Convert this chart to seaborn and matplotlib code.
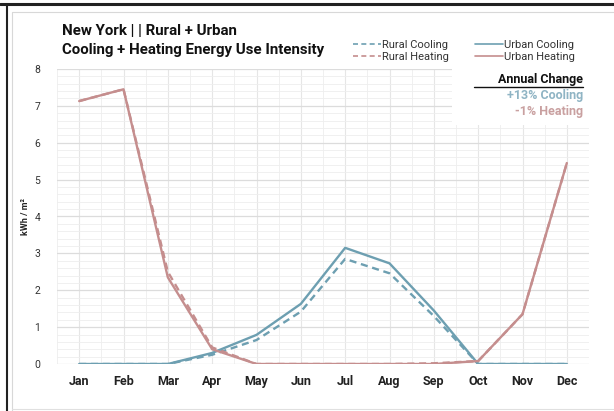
import matplotlib
matplotlib.use("Agg")
import matplotlib.pyplot as plt
from matplotlib.ticker import MultipleLocator
from matplotlib.lines import Line2D
import seaborn as sns
import pandas as pd

months = ["Jan", "Feb", "Mar", "Apr", "May", "Jun", "Jul", "Aug", "Sep", "Oct", "Nov", "Dec"]
rural_cooling = [0, 0, 0, 0.25, 0.65, 1.42, 2.85, 2.46, 1.30, 0, 0, 0]
urban_cooling = [0, 0, 0, 0.30, 0.79, 1.63, 3.15, 2.73, 1.45, 0, 0, 0]
rural_heating = [7.13, 7.45, 2.50, 0.45, 0, 0, 0, 0, 0.02, 0.08, 1.35, 5.45]
urban_heating = [7.13, 7.45, 2.35, 0.40, 0, 0, 0, 0, 0, 0.08, 1.35, 5.45]
yticks = [0, 1, 2, 3, 4, 5, 6, 7, 8]
cooling_change = "+13% Cooling"
heating_change = "-1% Heating"

COOL = "#6d9fb1"
HEAT = "#c58e8e"

sns.set_theme(style="white")
plt.rcParams["font.family"] = ["Roboto", "DejaVu Sans"]

fig = plt.figure(figsize=(6.14, 4.11), dpi=100)
ax = fig.add_axes([57 / 614, 1 - 364 / 411, (589 - 57) / 614, (364 - 69) / 411])

x = list(range(len(months)))
series = [
    (rural_cooling, COOL, (0, (3, 2))),
    (rural_heating, HEAT, (0, (3, 2))),
    (urban_cooling, COOL, "-"),
    (urban_heating, HEAT, "-"),
]
for vals, color, ls in series:
    df = pd.DataFrame({"month": x, "value": vals})
    sns.lineplot(data=df, x="month", y="value", ax=ax, color=color,
                 linestyle=ls, linewidth=1.7, zorder=3)

ax.set_xlim(-0.5, 11.5)
ax.set_ylim(0, 8)
ax.set_xticks(x)
ax.set_xticklabels(months, fontweight="bold", fontsize=9, color="#222222")
ax.set_yticks(yticks)
ax.set_yticklabels([str(t) for t in yticks], fontsize=7.5, color="#333333")
ax.xaxis.set_minor_locator(MultipleLocator(0.5))
ax.yaxis.set_minor_locator(MultipleLocator(0.2))
ax.grid(which="major", axis="y", color="#dcdcdc", linewidth=0.9)
ax.grid(which="major", axis="x", color="#e6e6e6", linewidth=0.8)
ax.grid(which="minor", color="#eeeeee", linewidth=0.6)
ax.tick_params(axis="both", which="both", length=0)
ax.tick_params(axis="x", pad=8)
ax.tick_params(axis="y", pad=12)
ax.set_axisbelow(True)
for s in ax.spines.values():
    s.set_visible(False)
ax.set_xlabel("")
ax.set_ylabel("kWh / m²", fontsize=6.5, fontweight="bold", color="#222222", labelpad=3)

# Annual change panel over the top-right corner of the grid
ax.add_patch(plt.Rectangle((8.41, 6.48), 3.1, 1.52, facecolor="white",
                           edgecolor="none", zorder=4))
fig.text(583 / 614, 1 - 80 / 411, "Annual Change", ha="right", va="center",
         fontsize=9, fontweight="bold", color="#111111")
fig.add_artist(Line2D([474 / 614, 583 / 614], [1 - 87 / 411, 1 - 87 / 411],
                      color="#111111", linewidth=1.0))
fig.text(583 / 614, 1 - 96 / 411, cooling_change, ha="right", va="center",
         fontsize=9, fontweight="bold", color="#8fb4c4")
fig.text(583 / 614, 1 - 112 / 411, heating_change, ha="right", va="center",
         fontsize=9, fontweight="bold", color="#c9a0a0")

# Titles
fig.text(62 / 614, 1 - 31 / 411, "New York | | Rural + Urban", ha="left", va="center",
         fontsize=10.8, fontweight="bold", color="#111111")
fig.text(62 / 614, 1 - 50 / 411, "Cooling + Heating Energy Use Intensity", ha="left",
         va="center", fontsize=10.8, fontweight="bold", color="#111111")

# Legend
handles = [
    Line2D([], [], color=COOL, linestyle=(0, (3, 2)), linewidth=1.2),
    Line2D([], [], color=HEAT, linestyle=(0, (3, 2)), linewidth=1.2),
    Line2D([], [], color=COOL, linestyle="-", linewidth=1.2),
    Line2D([], [], color=HEAT, linestyle="-", linewidth=1.2),
]
labels = ["Rural Cooling", "Rural Heating", "Urban Cooling", "Urban Heating"]
fig.legend(handles, labels, ncol=2, loc="center right",
           bbox_to_anchor=(580 / 614, 1 - 51 / 411), frameon=False,
           fontsize=8, handlelength=2.5, handletextpad=0.05,
           columnspacing=2.4, labelspacing=0.2, borderpad=0,
           labelcolor="#333333")

# Page frame
fig.add_artist(Line2D([0, 1], [1 - 4 / 411, 1 - 4 / 411], color="#222222", linewidth=2.2))
fig.add_artist(Line2D([6.5 / 614, 6.5 / 614], [0, 1 - 4 / 411], color="#222222", linewidth=1.5))
fig.add_artist(Line2D([12 / 614, 12 / 614, 1], [0, 1 - 12 / 411, 1 - 12 / 411],
                      color="#d8d8d8", linewidth=0.8))
fig.add_artist(Line2D([12 / 614, 1], [1 - 409 / 411, 1 - 409 / 411],
                      color="#e0e0e0", linewidth=0.8))

fig.savefig("out.png", dpi=100, facecolor="white")
